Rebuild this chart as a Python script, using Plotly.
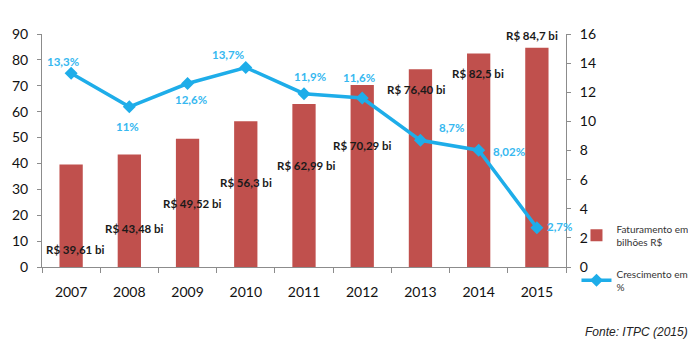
import plotly.graph_objects as go

years = ["2007", "2008", "2009", "2010", "2011", "2012", "2013", "2014", "2015"]
faturamento = [39.61, 43.48, 49.52, 56.3, 62.99, 70.29, 76.40, 82.5, 84.7]
faturamento_labels = ["R$ 39,61 bi", "R$ 43,48 bi", "R$ 49,52 bi", "R$ 56,3 bi", "R$ 62,99 bi",
                      "R$ 70,29 bi", "R$ 76,40 bi", "R$ 82,5 bi", "R$ 84,7 bi"]
crescimento = [13.3, 11.0, 12.6, 13.7, 11.9, 11.6, 8.7, 8.02, 2.7]
crescimento_labels = ["13,3%", "11%", "12,6%", "13,7%", "11,9%", "11,6%", "8,7%", "8,02%", "2,7%"]

# label placement (layout only)
bar_label_y = [6.6, 14.7, 24.7, 32.8, 39.4, 47.1, 68.4, 74.9, 89.6]
bar_label_dx = [4, 5, 5, 0, 2, 0, -4, -1, -5]
line_label_dx = [-8, -2, 3, -18, 6, -3, 31, 30, 23]
line_label_dy = [12, -20, -16, 13, 17, 21, 13, -1, 1]

RED = "#C0504D"
BLUE = "#1EADE9"
LBLUE = "#36B8F0"
FONT = "Lato, 'Open Sans', sans-serif"
PAD = "\u00a0\u00a0\u00a0"

fig = go.Figure()
fig.add_trace(go.Bar(
    x=years, y=faturamento, name="Faturamento em" + PAD + "<br>bilhões R$",
    marker=dict(color=RED, line=dict(width=0)), width=0.4, yaxis="y", legendgroup="a",
))
fig.add_trace(go.Scatter(
    x=years, y=crescimento, name="Crescimento em" + PAD + "<br>%", mode="lines+markers",
    line=dict(color=BLUE, width=3.5), marker=dict(symbol="diamond", size=10, color=BLUE),
    yaxis="y2", legendgroup="b",
))

annotations = []
for i, (lab, yy, dx) in enumerate(zip(faturamento_labels, bar_label_y, bar_label_dx)):
    annotations.append(dict(x=i, y=yy, xref="x", yref="y", text="<b>" + lab + "</b>",
                            showarrow=False, xshift=dx,
                            font=dict(family=FONT, size=11.5, color="#1a1a1a")))
for i, (v, lab, dx, dy) in enumerate(zip(crescimento, crescimento_labels, line_label_dx, line_label_dy)):
    annotations.append(dict(x=i, y=v, xref="x", yref="y2", text="<b>" + lab + "</b>",
                            showarrow=False, xshift=dx, yshift=dy,
                            font=dict(family=FONT, size=11.5, color=LBLUE)))
annotations.append(dict(x=1.0, y=0, xref="paper", yref="paper", xanchor="right", yanchor="bottom",
                        text="<i>Fonte: ITPC (2015)</i>", showarrow=False,
                        xshift=124, yshift=-74,
                        font=dict(family="Liberation Sans, Arial, sans-serif", size=12, color="#222")))

fig.update_layout(
    width=696, height=357,
    margin=dict(l=34, r=138, t=26, b=98, autoexpand=False),
    paper_bgcolor="white", plot_bgcolor="white",
    font=dict(family=FONT, color="#222"),
    showlegend=True,
    legend=dict(x=1.02, y=0.22, xanchor="left", yanchor="top",
                font=dict(family=FONT, size=10, color="#333"),
                tracegroupgap=16, itemwidth=30, bgcolor="rgba(0,0,0,0)"),
    xaxis=dict(type="category", categoryorder="array", categoryarray=years,
               range=[-0.5, len(years) - 0.5], autorange=False,
               showline=True, linecolor="#8c8c8c", linewidth=1, ticks="outside",
               tickson="boundaries", ticklen=5, tickcolor="#8c8c8c", tickangle=0,
               tickfont=dict(family=FONT, size=14, color="#111"), ticklabelstandoff=12,
               showgrid=False, zeroline=False),
    yaxis=dict(range=[0, 90], dtick=10, showline=True, linecolor="#8c8c8c", linewidth=1,
               ticks="outside", ticklen=4, tickcolor="#8c8c8c", showgrid=False, zeroline=False,
               tickfont=dict(family=FONT, size=14, color="#111"), ticklabelstandoff=6),
    yaxis2=dict(range=[0, 16], dtick=2, overlaying="y", side="right", showline=True,
                linecolor="#8c8c8c", linewidth=1, ticks="outside", ticklen=4, tickcolor="#8c8c8c",
                showgrid=False, zeroline=False,
                tickfont=dict(family=FONT, size=14, color="#111"), ticklabelstandoff=6),
    annotations=annotations,
)

fig.write_html(
    "out.html",
    post_script="document.documentElement.style.overflow='hidden';document.body.style.overflow='hidden';",
)
